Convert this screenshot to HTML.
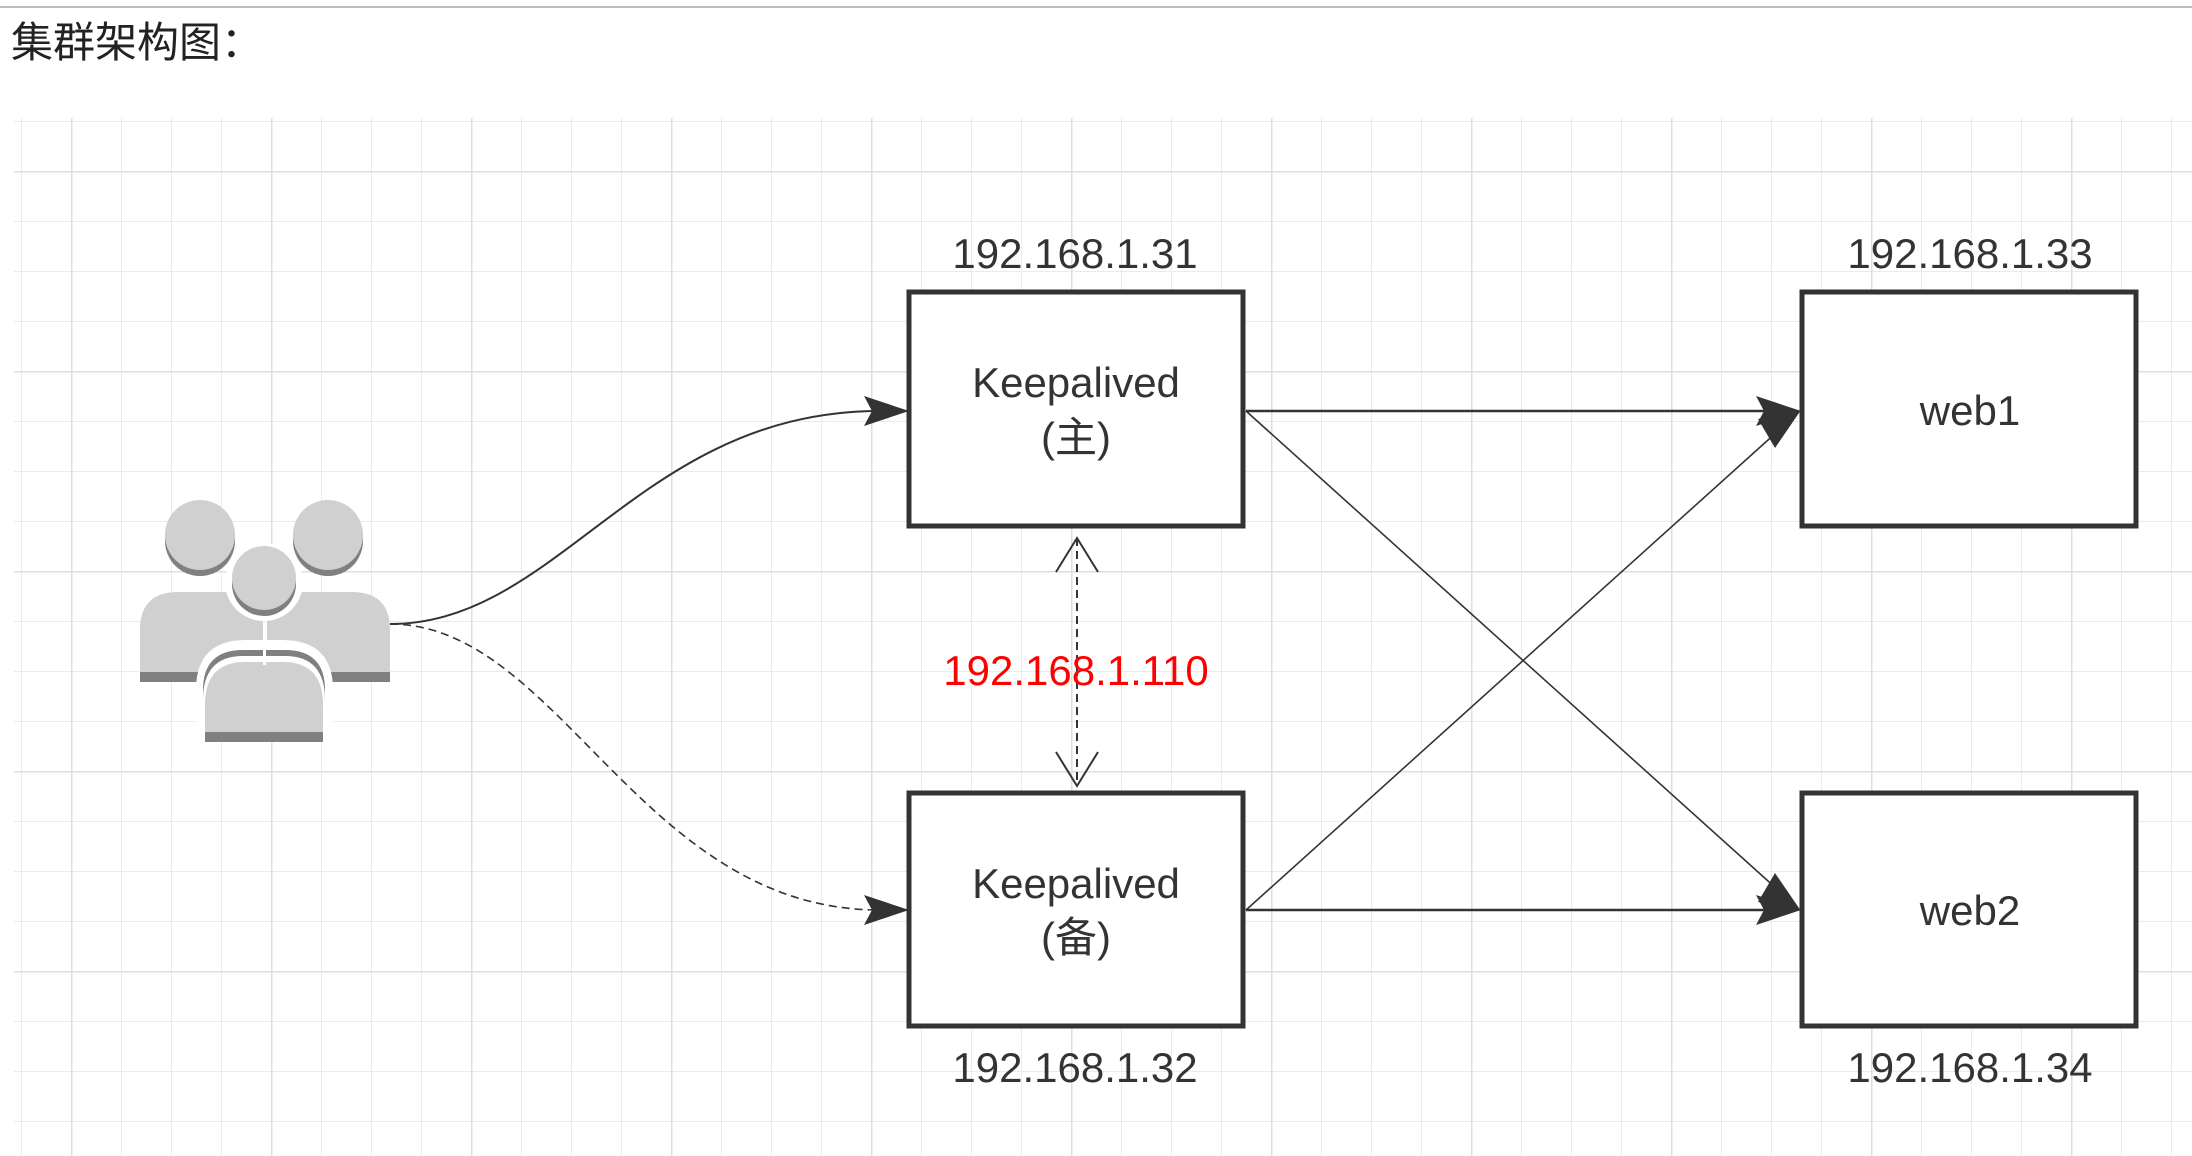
<!DOCTYPE html>
<html><head><meta charset="utf-8"><style>
html,body{margin:0;padding:0;background:#fff;}
svg{display:block;}
</style></head><body>
<svg width="2192" height="1156" viewBox="0 0 2192 1156" xmlns="http://www.w3.org/2000/svg">
<defs>
<pattern id="minor" x="21" y="21" width="50" height="50" patternUnits="userSpaceOnUse">
<path d="M0 0V50M0 0H50" stroke="#ebebeb" stroke-width="2" fill="none"/>
</pattern>
<pattern id="major" x="71" y="171" width="200" height="200" patternUnits="userSpaceOnUse">
<path d="M0 0V200M0 0H200" stroke="#dedede" stroke-width="3" fill="none"/>
</pattern>
</defs>
<line x1="0" y1="7" x2="2192" y2="7" stroke="#bbb" stroke-width="2"/>
<text x="11" y="57" font-family="'Liberation Sans','Noto Sans CJK SC',sans-serif" font-size="42" fill="#222">集群架构图：</text>
<rect x="14" y="118" width="2178" height="1038" fill="url(#minor)"/>
<rect x="14" y="118" width="2178" height="1038" fill="url(#major)"/>

<g>
<path d="M140 682 V630 Q140 592 178 592 H263 V682 Z" fill="#d0d0d0"/>
<path d="M267 592 H352 Q390 592 390 630 V682 H267 Z" fill="#d0d0d0"/>
<rect x="140" y="672" width="123" height="10" fill="#808080"/>
<rect x="267" y="672" width="123" height="10" fill="#808080"/>
<circle cx="200" cy="541" r="35" fill="#808080"/>
<circle cx="200" cy="535" r="35" fill="#d0d0d0"/>
<circle cx="328" cy="541" r="35" fill="#808080"/>
<circle cx="328" cy="535" r="35" fill="#d0d0d0"/>
<circle cx="264" cy="582" r="39" fill="#fff"/>
<path d="M196 742 V690 Q196 640 246 640 H282 Q333 640 333 690 V742 Z" fill="#fff"/>
<path d="M203 742 V690 Q203 650 243 650 H285 Q325 650 325 690 V742 Z" fill="#808080"/>
<path d="M203 742 V700 Q203 656 243 656 H285 Q325 656 325 700 V742 Z" fill="#fff"/>
<path d="M205 742 V705 Q205 662 245 662 H283 Q323 662 323 705 V742 Z" fill="#d0d0d0"/>
<rect x="205" y="732" width="118" height="10" fill="#808080"/>
<rect x="263" y="640" width="3" height="25" fill="#fff"/>
<circle cx="264" cy="584" r="32" fill="#808080"/>
<circle cx="264" cy="578" r="32" fill="#d0d0d0"/>
</g>

<g fill="none" stroke="#333">
<path d="M390 624 C560 624 640 411 880 411" stroke-width="2"/>
<path d="M390 624 C560 624 640 910 880 910" stroke-width="1.6" stroke-dasharray="8,5"/>
<line x1="1077" y1="538" x2="1077" y2="786" stroke-width="2" stroke-dasharray="8,5"/>
<path d="M1056 572 L1077 538 L1098 572 M1056 752 L1077 786 L1098 752" stroke-width="2"/>
<line x1="1246" y1="411" x2="1770" y2="411" stroke-width="2.5"/>
<line x1="1246" y1="910" x2="1770" y2="910" stroke-width="2.5"/>
<line x1="1246" y1="411" x2="1778" y2="890" stroke-width="1.6"/>
<line x1="1246" y1="910" x2="1778" y2="431" stroke-width="1.6"/>
</g>
<g fill="#333">
<polygon points="909,411 864,396 872,411 864,426"/>
<polygon points="909,910 864,895 872,910 864,925"/>
<polygon points="1801,411 1756,396 1764,411 1756,426"/>
<polygon points="1801,910 1756,895 1764,910 1756,925"/>
<polygon points="1801,911 1758,902 1775,873"/>
<polygon points="1801,410 1775,448 1758,419"/>
</g>

<g fill="#fff" stroke="#333" stroke-width="5">
<rect x="909" y="292" width="334" height="234"/>
<rect x="909" y="793" width="334" height="233"/>
<rect x="1802" y="292" width="334" height="234"/>
<rect x="1802" y="793" width="334" height="233"/>
</g>

<g font-family="'Liberation Sans','Noto Sans CJK SC',sans-serif" font-size="42" fill="#333" text-anchor="middle">
<text x="1075" y="268">192.168.1.31</text>
<text x="1970" y="268">192.168.1.33</text>
<text x="1075" y="1082">192.168.1.32</text>
<text x="1970" y="1082">192.168.1.34</text>
<text x="1076" y="397">Keepalived</text>
<text x="1076" y="452">(主)</text>
<text x="1076" y="898">Keepalived</text>
<text x="1076" y="952">(备)</text>
<text x="1970" y="425">web1</text>
<text x="1970" y="925">web2</text>
<text x="1076" y="685" fill="#ff0000">192.168.1.110</text>
</g>
</svg>
</body></html>
